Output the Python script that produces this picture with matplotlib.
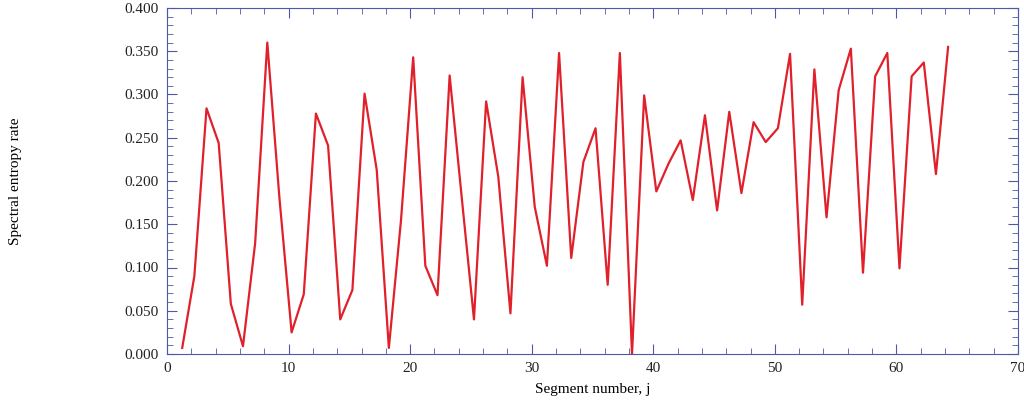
import matplotlib
matplotlib.use("Agg")
import matplotlib.pyplot as plt
from matplotlib.ticker import MultipleLocator
import numpy as np

segments = list(range(1, 65))
entropy = [0.007,0.090,0.284,0.244,0.058,0.009,0.128,0.360,0.180,0.025,
           0.069,0.278,0.241,0.040,0.074,0.301,0.213,0.007,0.155,0.343,
           0.102,0.068,0.322,0.180,0.040,0.292,0.205,0.047,0.320,0.170,
           0.102,0.348,0.111,0.222,0.261,0.080,0.348,0.000,0.299,0.188,
           0.220,0.247,0.178,0.276,0.166,0.280,0.186,0.268,0.245,0.261,
           0.347,0.057,0.329,0.158,0.305,0.353,0.094,0.321,0.348,0.099,
           0.321,0.337,0.208,0.355]
offset = 0.25

plt.rcParams['font.family'] = ['Liberation Serif', 'DejaVu Serif']
fig = plt.figure(figsize=(10.24, 4.03), dpi=100)
ax = fig.add_axes([167/1024, 1-354/403, (1018-167)/1024, (354-8)/403])
ax.plot(np.array(segments) + offset, entropy, color='#e0202a', lw=1.6)
ax.set_xlim(0, 70)
ax.set_ylim(0, 0.4)
ax.xaxis.set_major_locator(MultipleLocator(10))
ax.xaxis.set_minor_locator(MultipleLocator(2))
ax.yaxis.set_major_locator(MultipleLocator(0.05))
ax.yaxis.set_minor_locator(MultipleLocator(0.01))
ax.yaxis.set_major_formatter(plt.FuncFormatter(lambda v, p: f"{v:.3f}"))
ec = '#4a5aa8'
for s in ax.spines.values():
    s.set_color(ec); s.set_linewidth(0.8)
ax.tick_params(which='both', direction='in', top=True, right=True, color=ec, labelsize=11, labelcolor='#222222')
ax.tick_params(which='major', length=7, pad=6)
ax.tick_params(which='minor', length=4)
ax.set_xlabel('Segment number, j', fontsize=11)
ax.xaxis.set_label_coords(0.5, -0.085)
ax.set_ylabel('Spectral entropy rate', fontsize=11)
ax.yaxis.set_label_coords(-0.17, 0.5)
fig.savefig('out.png', dpi=100)
